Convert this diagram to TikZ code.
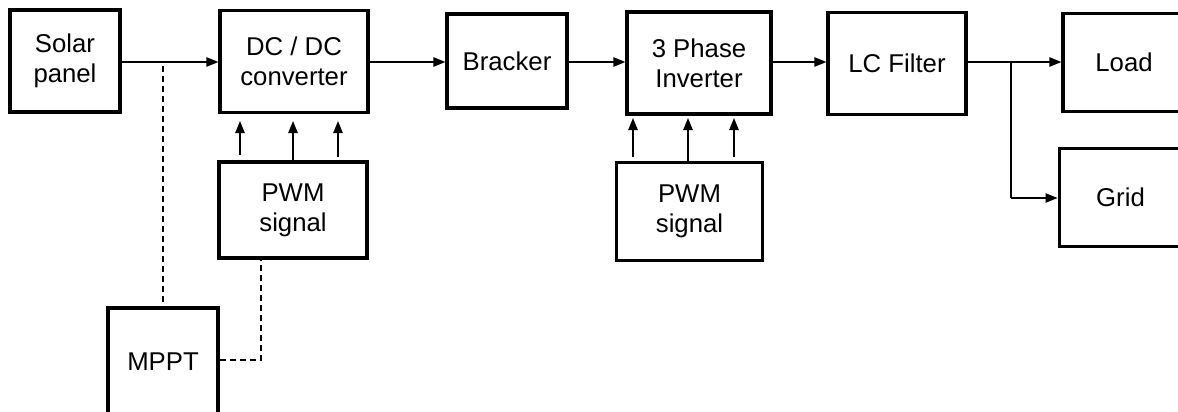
\documentclass[tikz,border=0pt]{standalone}
\usepackage{fontspec}
\setmainfont{Liberation Sans}
\usetikzlibrary{arrows.meta}
\begin{document}
\begin{tikzpicture}[x=0.75pt,y=-0.75pt,
  blockbox/.style={draw, line width=2.4pt, inner sep=0pt, align=center,
    font=\fontsize{19.3}{22.5}\selectfont},
  flow/.style={line width=1.1pt, -{Triangle[length=9pt,width=7pt]}},
  wire/.style={line width=1.1pt},
  ctrl/.style={line width=0.9pt, dash pattern=on 4.5pt off 3pt}]
\clip (0,0) rectangle (1178,411);
\fill[white] (0,0) rectangle (1178,411);

% main power chain
\node[blockbox, minimum width=82.5pt, minimum height=76.5pt] (solar) at (65,61) {Solar\\panel};
\node[blockbox, minimum width=111pt, minimum height=77pt] (dcdc) at (294,61.5) {DC / DC\\converter};
\node[blockbox, minimum width=90pt, minimum height=70.5pt] (bracker) at (507,61) {Bracker};
\node[blockbox, minimum width=108pt, minimum height=76.5pt] (inv) at (699,63) {3 Phase\\Inverter};
\node[blockbox, minimum width=103.5pt, minimum height=77pt] (lc) at (897,63.5) {LC Filter};
\node[blockbox, minimum width=91.5pt, minimum height=74pt] (load) at (1124,62.5) {Load};
\node[blockbox, minimum width=92pt, minimum height=74pt] (grid) at (1120.5,197.5) {Grid};

% control blocks
\node[blockbox, minimum width=111pt, minimum height=72pt] (pwma) at (293,210) {PWM\\signal};
\node[blockbox, minimum width=110pt, minimum height=73pt] (pwmb) at (689.5,211.5) {PWM\\signal};
\node[blockbox, minimum width=82.5pt, minimum height=81pt] (mppt) at (163,362) {MPPT};

% power flow
\draw[flow] (solar.east |- 0,62) -- (dcdc.west |- 0,62);
\draw[flow] (dcdc.east |- 0,62) -- (bracker.west |- 0,62);
\draw[flow] (bracker.east |- 0,62) -- (inv.west |- 0,62);
\draw[flow] (inv.east |- 0,62) -- (lc.west |- 0,62);
\draw[flow] (lc.east |- 0,62) -- (load.west |- 0,62);
\coordinate (split) at (1011,62);
\draw[wire] (split) -- (1011,198) coordinate (turn);
\draw[flow] (turn) -- (grid.west |- turn);

% gate signals to the DC/DC converter
\coordinate (a1) at (240,155); \coordinate (a3) at (338,157);
\draw[flow] (a1) -- (240,121);
\draw[flow] (pwma.north) -- (pwma.north |- 0,121);
\draw[flow] (a3) -- (338,121);

% gate signals to the inverter
\coordinate (b1) at (633,157); \coordinate (b3) at (734,157);
\draw[flow] (b1) -- (633,118);
\draw[flow] (pwmb.north -| 688,0) -- (688,118);
\draw[flow] (b3) -- (734,118);

% MPPT sensing and control
\coordinate (tap) at (163,66);
\draw[ctrl] (tap) -- (mppt.north);
\coordinate (pwmfoot) at (261,258);
\draw[ctrl] (mppt.east |- 0,360) -| (pwmfoot);
\end{tikzpicture}
\end{document}
